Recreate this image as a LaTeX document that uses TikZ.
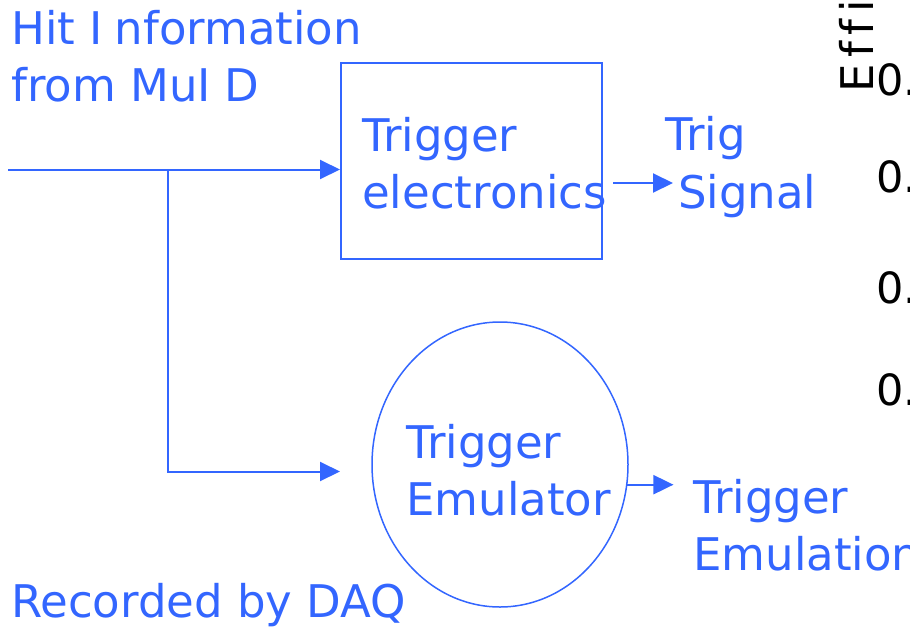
\documentclass[tikz,border=0pt]{standalone}
\usepackage{fontspec}
\setmainfont[Ligatures=NoCommon]{DejaVu Sans}
\usetikzlibrary{positioning, calc, shapes.geometric, arrows.meta}
\definecolor{FlowBlue}{RGB}{51,102,255}
\tikzset{
    lbl/.style={
        font=\fontsize{45}{57}\selectfont,
        text=FlowBlue,
        inner sep=0pt,
        align=left,
        anchor=base west
    },
    axislbl/.style={font=\fontsize{43}{52}\selectfont, text=black, inner sep=0pt, anchor=base west},
    block/.style={rectangle, draw=FlowBlue, line width=2pt, minimum width=261pt, minimum height=196pt, inner sep=0pt},
    emubody/.style={ellipse, draw=FlowBlue, line width=1.5pt, minimum width=256pt, minimum height=285pt, inner sep=0pt},
    flow/.style={draw=FlowBlue, line width=2pt, -{Triangle[length=20pt, width=19pt]}}
}

\begin{document}
\begin{tikzpicture}[x=1pt, y=-1pt]
\useasboundingbox (0,0) rectangle (910,627);
\clip (0,0) rectangle (910,627);

% Inputs (two-line nodes sit on their last baseline)
\node[lbl] (hit) at (11,101) {Hit I\kern12pt nformation\\from MuI\kern14pt D};
\node[lbl] (daq) at (11,617) {Recorded by DAQ};

% Trigger electronics
\node[block] (trig) at (471.5,161) {};
\node[lbl] (trigtxt) at (362,208) {Trigger\\electronics};
\node[lbl] (trigsig) at (665,150) {Trig};
\node[lbl] (signal) at (678,208) {Signal};

% Emulator
\node[emubody] (emu) at (500,464.5) {};
\node[lbl] (emutxt) at (406,515) {Trigger\\Emulator};
\node[lbl] (emuout) at (693,570) {Trigger\\Emulation};

% Wires
\coordinate (in) at (8,169.5);
\coordinate (fork) at (168,169.5);
\coordinate (emuin) at (340,471.5);
\coordinate (trigout) at (613,183);
\draw[flow] (in) -- (in -| trig.west);
\draw[flow] (fork) |- (emuin);
\draw[flow] (trigout) -- ++(60,0);
\draw[flow] (emu.-9.6) -- ++(46,0);

% Efficiency axis (cut off at the edge)
\node[axislbl, rotate=90, font=\fontsize{45}{52}\selectfont\addfontfeatures{LetterSpace=15}] (effi) at (873,93) {Effi};
\foreach \y [count=\i] in {95,192,303,405}
    \node[axislbl] (tick\i) at (876,\y) {0.};
\end{tikzpicture}
\end{document}
